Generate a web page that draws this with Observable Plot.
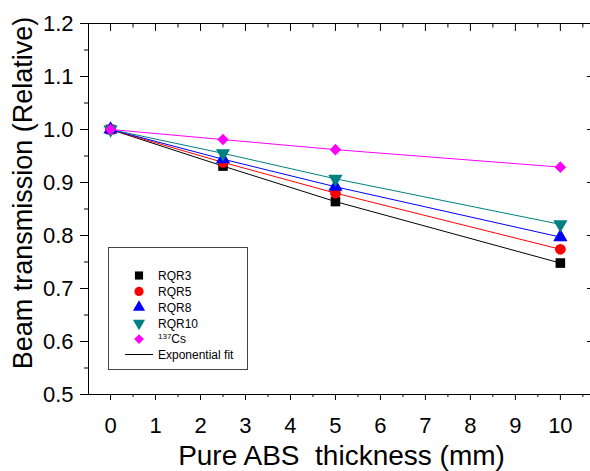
<!DOCTYPE html>
<html><head><meta charset="utf-8">
<script src="https://cdn.jsdelivr.net/npm/d3@7"></script>
<script src="https://cdn.jsdelivr.net/npm/@observablehq/plot@0.6"></script>
<style>
body{margin:0;background:#fff;}
#wrap{position:relative;width:590px;height:471px;font-family:"Liberation Sans",Arial,sans-serif;}
#legend{position:absolute;left:108px;top:247px;}
</style></head><body><div id="wrap"></div>
<script>
// Data
const thickness = [0, 2.5, 5, 10];
const rqr3  = [1.0, 0.931, 0.864, 0.748];
const rqr5  = [1.0, 0.938, 0.880, 0.774];
const rqr8  = [1.0, 0.944, 0.892, 0.797];
const rqr10 = [1.0, 0.955, 0.907, 0.821];
const cs137 = [1.0, 0.981, 0.962, 0.929];
const seriesNames  = ["RQR3", "RQR5", "RQR8", "RQR10", "137Cs"];
const seriesValues = [rqr3, rqr5, rqr8, rqr10, cs137];
const seriesColors = ["#000000", "#ff0000", "#0000ff", "#008080", "#ff00ff"];
const seriesSymbols = ["square", "circle", "triangle", "triangle", "diamond2"];
const seriesRotate = [0, 0, 0, 180, 0];
const seriesR = [5.4, 5.4, 5.3, 5.3, 5.2];
const xTicks = [0, 1, 2, 3, 4, 5, 6, 7, 8, 9, 10];
const xMinorTicks = [0.5, 1.5, 2.5, 3.5, 4.5, 5.5, 6.5, 7.5, 8.5, 9.5, 10.5];
const yTicks = [0.5, 0.6, 0.7, 0.8, 0.9, 1.0, 1.1, 1.2];
const yMinorTicks = [0.55, 0.65, 0.75, 0.85, 0.95, 1.05, 1.15];
const xLabel = "Pure ABS  thickness (mm)";
const yLabel = "Beam transmission (Relative)";
const fitLabel = "Exponential fit";

const xDomain = [-0.49, 10.67];
const yDomain = [0.5, 1.2];

const rows = [];
seriesNames.forEach((s, i) => thickness.forEach((t, j) => rows.push({series: s, x: t, y: seriesValues[i][j]})));

const noText = () => "";
const marks = [
  Plot.ruleY([yDomain[0]], {stroke: "#000"}),
  Plot.ruleY([yDomain[1]], {stroke: "#000"}),
  Plot.ruleX([xDomain[0]], {stroke: "#000"}),
  // left axis
  Plot.axisY({ticks: yTicks, tickSize: 8, tickPadding: 7, tickFormat: d3.format(".1f"), fontSize: 22, label: null}),
  Plot.axisY({ticks: yMinorTicks, tickSize: 4, tickFormat: noText, label: null}),
  // right axis (inward)
  Plot.axisY({anchor: "right", ticks: yTicks, tickSize: -4, tickFormat: noText, label: null}),
  // bottom axis
  Plot.axisX({ticks: xTicks, tickSize: 6, tickPadding: 17, tickFormat: d3.format("d"), fontSize: 22, label: null}),
  Plot.axisX({ticks: xMinorTicks, tickSize: 3, tickFormat: noText, label: null}),
  // top axis (inward)
  Plot.axisX({anchor: "top", ticks: xTicks, tickSize: -7, tickFormat: noText, label: null}),
  Plot.axisX({anchor: "top", ticks: xMinorTicks, tickSize: -3.5, tickFormat: noText, label: null}),
  // titles
  Plot.text([yLabel], {frameAnchor: "left", text: d => d, rotate: -90, dx: -65, dy: -16, fontSize: 27, lineAnchor: "middle", textAnchor: "middle"}),
  Plot.text([xLabel], {frameAnchor: "bottom", text: d => d, dx: 2, dy: 62, fontSize: 28, lineAnchor: "middle", textAnchor: "middle"})
];
seriesNames.forEach((s, i) => {
  marks.push(Plot.line(rows.filter(d => d.series === s), {x: "x", y: "y", stroke: seriesColors[i], strokeWidth: 1}));
});
seriesNames.forEach((s, i) => {
  marks.push(Plot.dot(rows.filter(d => d.series === s), {x: "x", y: "y", fill: seriesColors[i], stroke: "none", symbol: seriesSymbols[i], r: seriesR[i], rotate: seriesRotate[i]}));
});

const chart = Plot.plot({
  width: 590, height: 471,
  marginLeft: 88, marginRight: 0, marginTop: 23, marginBottom: 77,
  style: {fontFamily: '"Liberation Sans", Arial, sans-serif', background: "#fff", color: "#000", overflow: "visible"},
  x: {domain: xDomain},
  y: {domain: yDomain},
  marks
});
const wrap = document.getElementById("wrap");
wrap.appendChild(chart);

// Legend (overlay box)
const lg = d3.select(wrap).append("svg").attr("id", "legend").attr("width", 141).attr("height", 125)
  .style("font-family", '"Liberation Sans", Arial, sans-serif');
lg.append("rect").attr("x", 0.5).attr("y", 0.5).attr("width", 139).attr("height", 122).attr("fill", "#fff").attr("stroke", "#444");
const symMap = {square: d3.symbolSquare, circle: d3.symbolCircle, triangle: d3.symbolTriangle, diamond2: d3.symbolDiamond2};
seriesNames.forEach((s, i) => {
  const y = 28.5 + i * 15.9;
  const r = seriesR[i] * 0.85;
  lg.append("path").attr("d", d3.symbol(symMap[seriesSymbols[i]], Math.PI * r * r)())
    .attr("transform", `translate(31,${y}) rotate(${seriesRotate[i]})`).attr("fill", seriesColors[i]);
  const t = lg.append("text").attr("x", 50).attr("y", y + 4.3).attr("font-size", 12);
  if (s === "137Cs") {
    t.append("tspan").attr("font-size", 8).attr("dy", -4).text("137");
    t.append("tspan").attr("dy", 4).text("Cs");
  } else t.text(s);
});
const fy = 28.5 + 5 * 15.8;
lg.append("line").attr("x1", 17).attr("x2", 45).attr("y1", fy).attr("y2", fy).attr("stroke", "#000");
lg.append("text").attr("x", 50).attr("y", fy + 4.3).attr("font-size", 12).text(fitLabel);
</script></body></html>
